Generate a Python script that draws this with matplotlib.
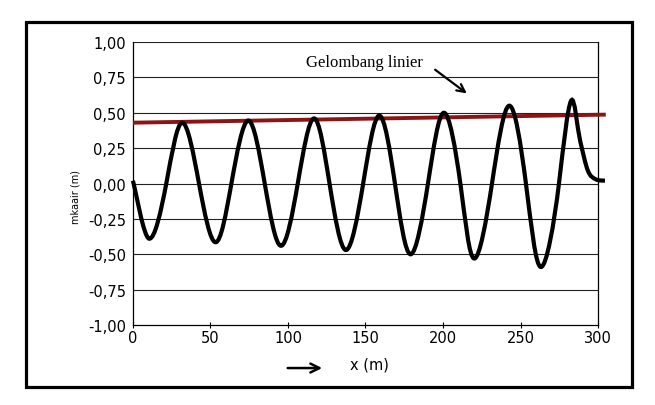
"""
muka air vs jarak, dibandingkan dengan gelombang linier
"""

import numpy as np
import matplotlib.pyplot as plt
from matplotlib.path import Path
from matplotlib.patches import PathPatch, Rectangle, FancyArrowPatch

# puncak, lembah dan titik nol dari gelombang
wave_x = [0, 10.5, 21.5, 31.8, 42.6, 53.3, 63.5, 74.4, 85, 95.5, 106.3,
          116.8, 126.8, 137.4, 148.5, 158.9, 169, 179.1, 190.3, 200.6,
          211.2, 220.2, 231.6, 242.8, 253.5, 263.2, 274.8, 282.6, 288.5,
          293.5, 298.5, 304.5]
wave_eta = [0.02, -0.39, 0.0, 0.43, 0.0, -0.415, 0.0, 0.445, 0.0, -0.44,
            0.0, 0.46, 0.0, -0.47, 0.0, 0.48, 0.0, -0.50, 0.0, 0.50, 0.0,
            -0.53, 0.0, 0.55, 0.0, -0.59, 0.0, 0.585, 0.30, 0.09, 0.03, 0.02]

# garis gelombang linier
linear_x = [0, 305]
linear_eta = [0.43, 0.487]

x_ticks = [0, 50, 100, 150, 200, 250, 300]
y_ticks = [-1.0, -0.75, -0.5, -0.25, 0.0, 0.25, 0.5, 0.75, 1.0]


def smooth_path(xs, ys):
    """ hermite -> bezier, steeper through the zero crossings """
    pts = np.column_stack([xs, ys]).astype(float)
    n = len(pts)
    tang = []
    for i in range(n):
        p0 = pts[max(i - 1, 0)]
        p2 = pts[min(i + 1, n - 1)]
        t = (p2 - p0) / 2.0
        if ys[i] == 0.0:
            t[1] *= 1.5
        tang.append(t)
    verts = [pts[0]]
    codes = [Path.MOVETO]
    for i in range(n - 1):
        verts += [pts[i] + tang[i] / 3.0, pts[i + 1] - tang[i + 1] / 3.0,
                  pts[i + 1]]
        codes += [Path.CURVE4] * 3
    return Path(verts, codes)


def main():
    """ main """
    plt.switch_backend("agg")
    fig = plt.figure(figsize=(6.55, 4.06), dpi=100)
    ax = fig.add_axes([0.203, 0.197, 0.710, 0.697])

    # frame around the whole chart
    fig.patches.append(Rectangle((0.040, 0.044), 0.925, 0.899,
                                 transform=fig.transFigure, fill=False,
                                 lw=2.3, ec='black'))

    for yv in y_ticks[1:]:
        ax.axhline(yv, color='#222222', lw=0.8, zorder=1)

    ax.plot(linear_x, linear_eta, color='#8c1414', lw=2.8,
            solid_capstyle='butt', clip_on=False, zorder=3)
    ax.add_patch(PathPatch(smooth_path(wave_x, wave_eta), fill=False,
                           ec='black', lw=3.0, clip_on=False, zorder=4))

    ax.set_xlim(0, 300)
    ax.set_ylim(-1.0, 1.0)
    ax.set_xticks(x_ticks)
    ax.set_yticks(y_ticks)
    ax.set_yticklabels([('%.2f' % v).replace('.', ',') for v in y_ticks])
    ax.tick_params(axis='x', direction='inout', length=5, width=0.8,
                   labelsize=10.5, pad=1)
    ax.tick_params(axis='y', length=0, labelsize=10.5, pad=5)
    for side in ['top', 'right', 'bottom', 'left']:
        ax.spines[side].set_linewidth(0.9)
    ax.spines['top'].set_visible(False)

    ax.text(111.6, 0.86, 'Gelombang linier', family='Liberation Serif',
            fontsize=12, va='center', ha='left')
    ax.annotate('', xy=(216.8, 0.625), xytext=(193.5, 0.816),
                arrowprops=dict(arrowstyle='->', lw=1.6, color='black',
                                mutation_scale=14))

    fig.text(0.116, 0.515, 'mkaair (m)', rotation=90, fontsize=7,
             va='center', ha='center')
    fig.text(0.534, 0.101, 'x (m)', fontsize=10.5, va='center', ha='left')
    fig.patches.append(FancyArrowPatch(
        (0.435, 0.091), (0.496, 0.091), transform=fig.transFigure,
        arrowstyle='->', lw=1.8, mutation_scale=16, color='black'))

    fig.savefig("out.png", dpi=100)


if __name__ == "__main__":
    main()
